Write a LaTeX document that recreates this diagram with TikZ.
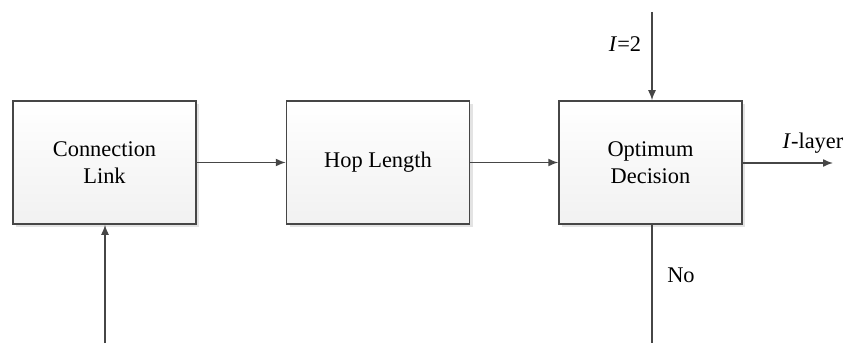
\documentclass[tikz,border=0pt]{standalone}
\usepackage{fontspec}
\setmainfont{Liberation Serif}
\usepackage{tikz}
\usetikzlibrary{arrows.meta}
\usetikzlibrary{shadows}
\definecolor{linegray}{RGB}{70,70,70}
\tikzstyle{flow}=[x=0.5pt, y=0.5pt, draw=linegray, line width=0.75pt, font=\fontsize{11.2}{13.3}\selectfont]
\tikzstyle{block}=[rectangle, draw=linegray, top color=white, bottom color=gray!11, minimum width=91.5pt, minimum height=61.5pt, align=center, inner sep=0pt, drop shadow={shadow xshift=1.6pt, shadow yshift=-1.6pt, fill=gray!22, opacity=1}]
\tikzstyle{edge}=[-{Latex[length=5pt, width=4pt]}, linegray]
\tikzstyle{lbl}=[inner sep=1pt, text=black]

\begin{document}
\begin{tikzpicture}[flow]
	\useasboundingbox (0,0) rectangle (845,343);
	\draw (104.5,180.5) node[block] (link) {Connection\\Link};
	\draw (378,180.5) node[block] (hop) {Hop Length};
	\draw (650.5,180.5) node[block] (opt) {Optimum\\Decision};
	\coordinate (top) at (652,331);
	\coordinate (out) at (833,180);
	\coordinate (no) at (652,0);
	\coordinate (fb) at (105,0);
	\draw[edge] (link) -- (hop);
	\draw[edge] (hop) -- (opt);
	\draw[edge] (top) -- (opt.north -| top);
	\draw[edge] (opt.east |- out) -- (out);
	\draw[edge, -] (opt.south -| no) -- (no);
	\draw[edge] (fb) -- (link.south -| fb);
	\node[lbl] (i2) at (625,299) {\textit{I}=2};
	\node[lbl] (ilayer) at (813,200) {\textit{I}-layer};
	\node[lbl] (nolbl) at (681,68) {No};
\end{tikzpicture}
\end{document}
